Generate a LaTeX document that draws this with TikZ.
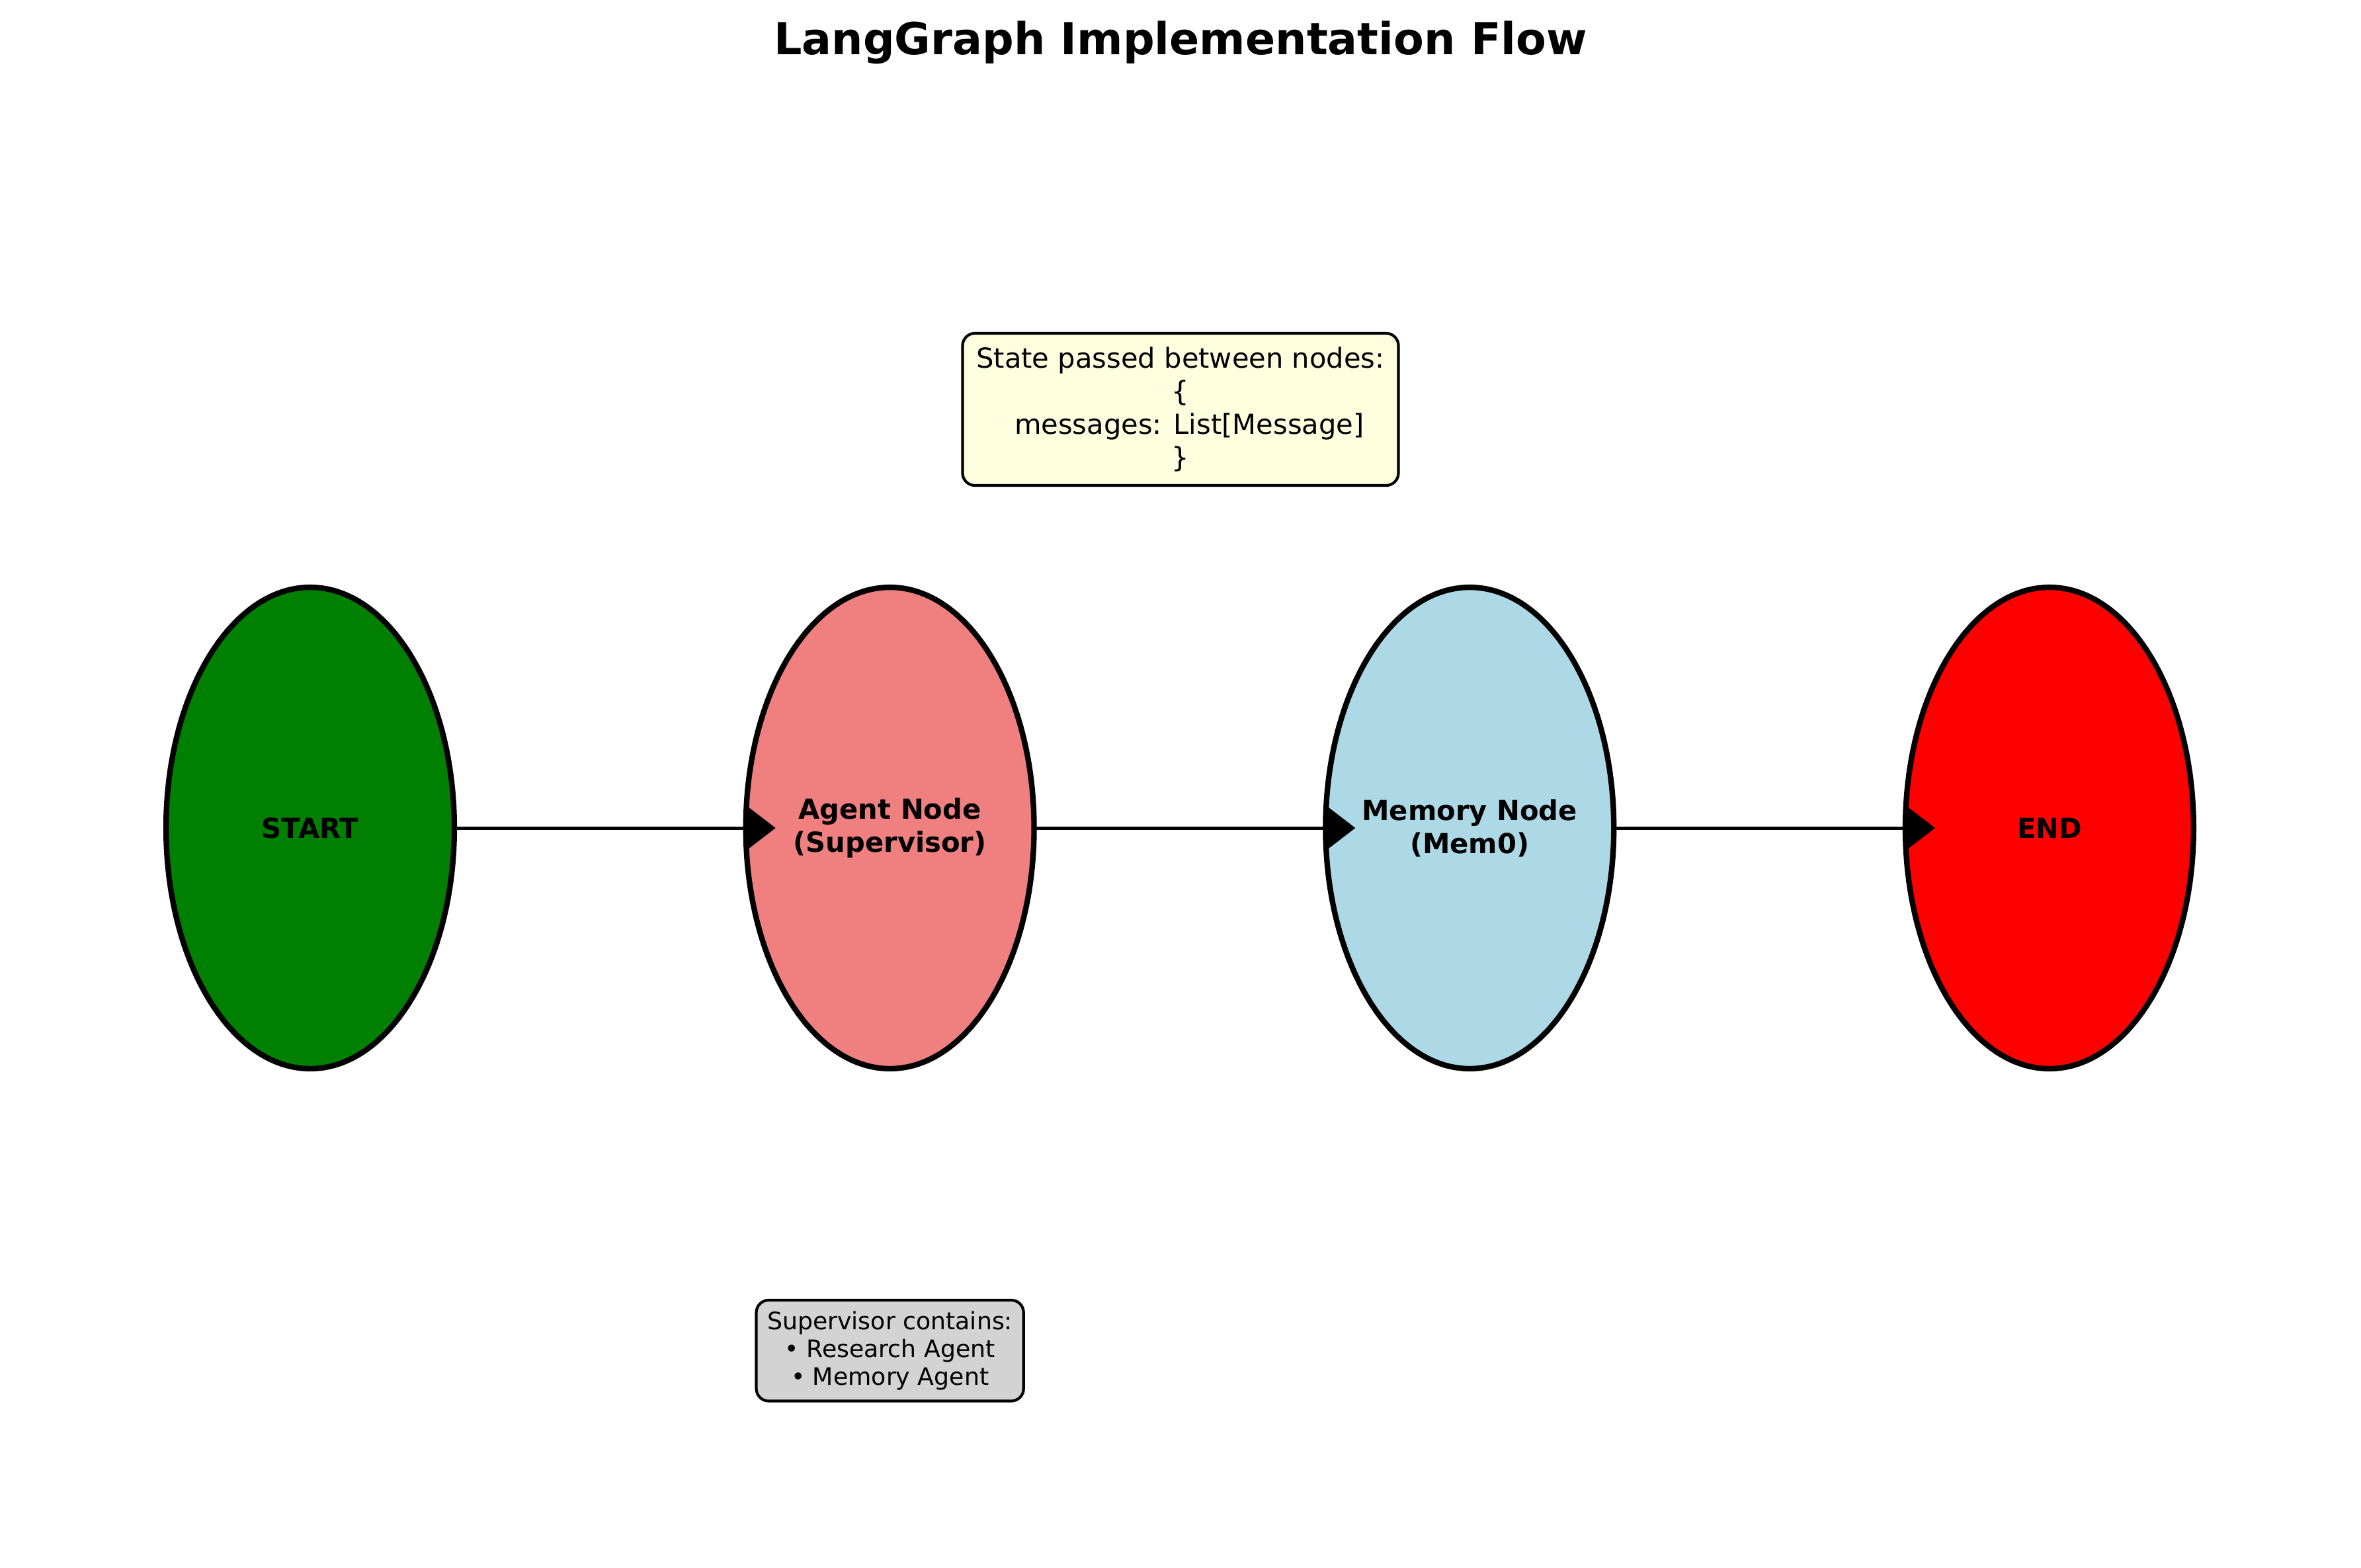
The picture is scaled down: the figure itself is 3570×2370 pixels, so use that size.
\documentclass[tikz,border=0pt]{standalone}
\usepackage{fontspec}
\setmainfont{DejaVu Sans}
\usetikzlibrary{arrows.meta,positioning,shapes.geometric}

\definecolor{startgreen}{HTML}{008000}
\definecolor{agentcoral}{HTML}{F08080}
\definecolor{memoryblue}{HTML}{ADD8E6}
\definecolor{endred}{HTML}{FF0000}
\definecolor{stateyellow}{HTML}{FFFFE0}
\definecolor{notegray}{HTML}{D3D3D3}

\begin{document}
\begin{tikzpicture}
    [x=0.24pt, y=-0.24pt, node distance=105.8pt, font=\fontsize{10}{12}\selectfont,
    % STYLES
    % The graphnode style is used to draw the ellipses of the flow
    graphnode/.style={ellipse, draw, line width=2pt, outer sep=0pt, inner xsep=-12pt, inner ysep=0pt, minimum width=104.6pt, minimum height=174.7pt, align=center, font=\fontsize{10}{12}\selectfont\bfseries},
    % The note style is used for the rounded text boxes
    note/.style={rectangle, draw, rounded corners=4.5pt, line width=1pt, outer sep=0pt, inner sep=5pt, align=center},
    % The flow style is used for the arrows between nodes
    flow/.style={-{Triangle[length=10.8pt, width=16.3pt]}, line width=1.2pt, shorten >=-10.8pt}]

    \useasboundingbox (0,0) rectangle (3570,2370);

    % Title
    \node [anchor=base, font=\fontsize{16}{19}\selectfont\bfseries] (title) at (1785,82) {LangGraph Implementation Flow};

    % Draw nodes
    \node [graphnode, fill=startgreen] (start) at (469,1252) {START};
    \node [graphnode, fill=agentcoral, right=of start] (agent) {Agent Node\\(Supervisor)};
    \node [graphnode, fill=memoryblue, right=of agent] (memory) {Memory Node\\(Mem0)};
    \node [graphnode, fill=endred, right=of memory] (end) {END};

    % Notes
    \node [note, fill=stateyellow] (state) at (1785,619) {State passed between nodes:\\\{\\\hspace*{.64em}messages: List[Message]\\\}};
    \node [note, fill=notegray, font=\fontsize{8.7}{10.1}\selectfont, inner sep=4pt, below=84pt of agent] (contains) {Supervisor contains:\\• Research Agent\\• Memory Agent};

    \path[flow]
    (start) edge (agent)
    (agent) edge (memory)
    (memory) edge (end);
\end{tikzpicture}
\end{document}
